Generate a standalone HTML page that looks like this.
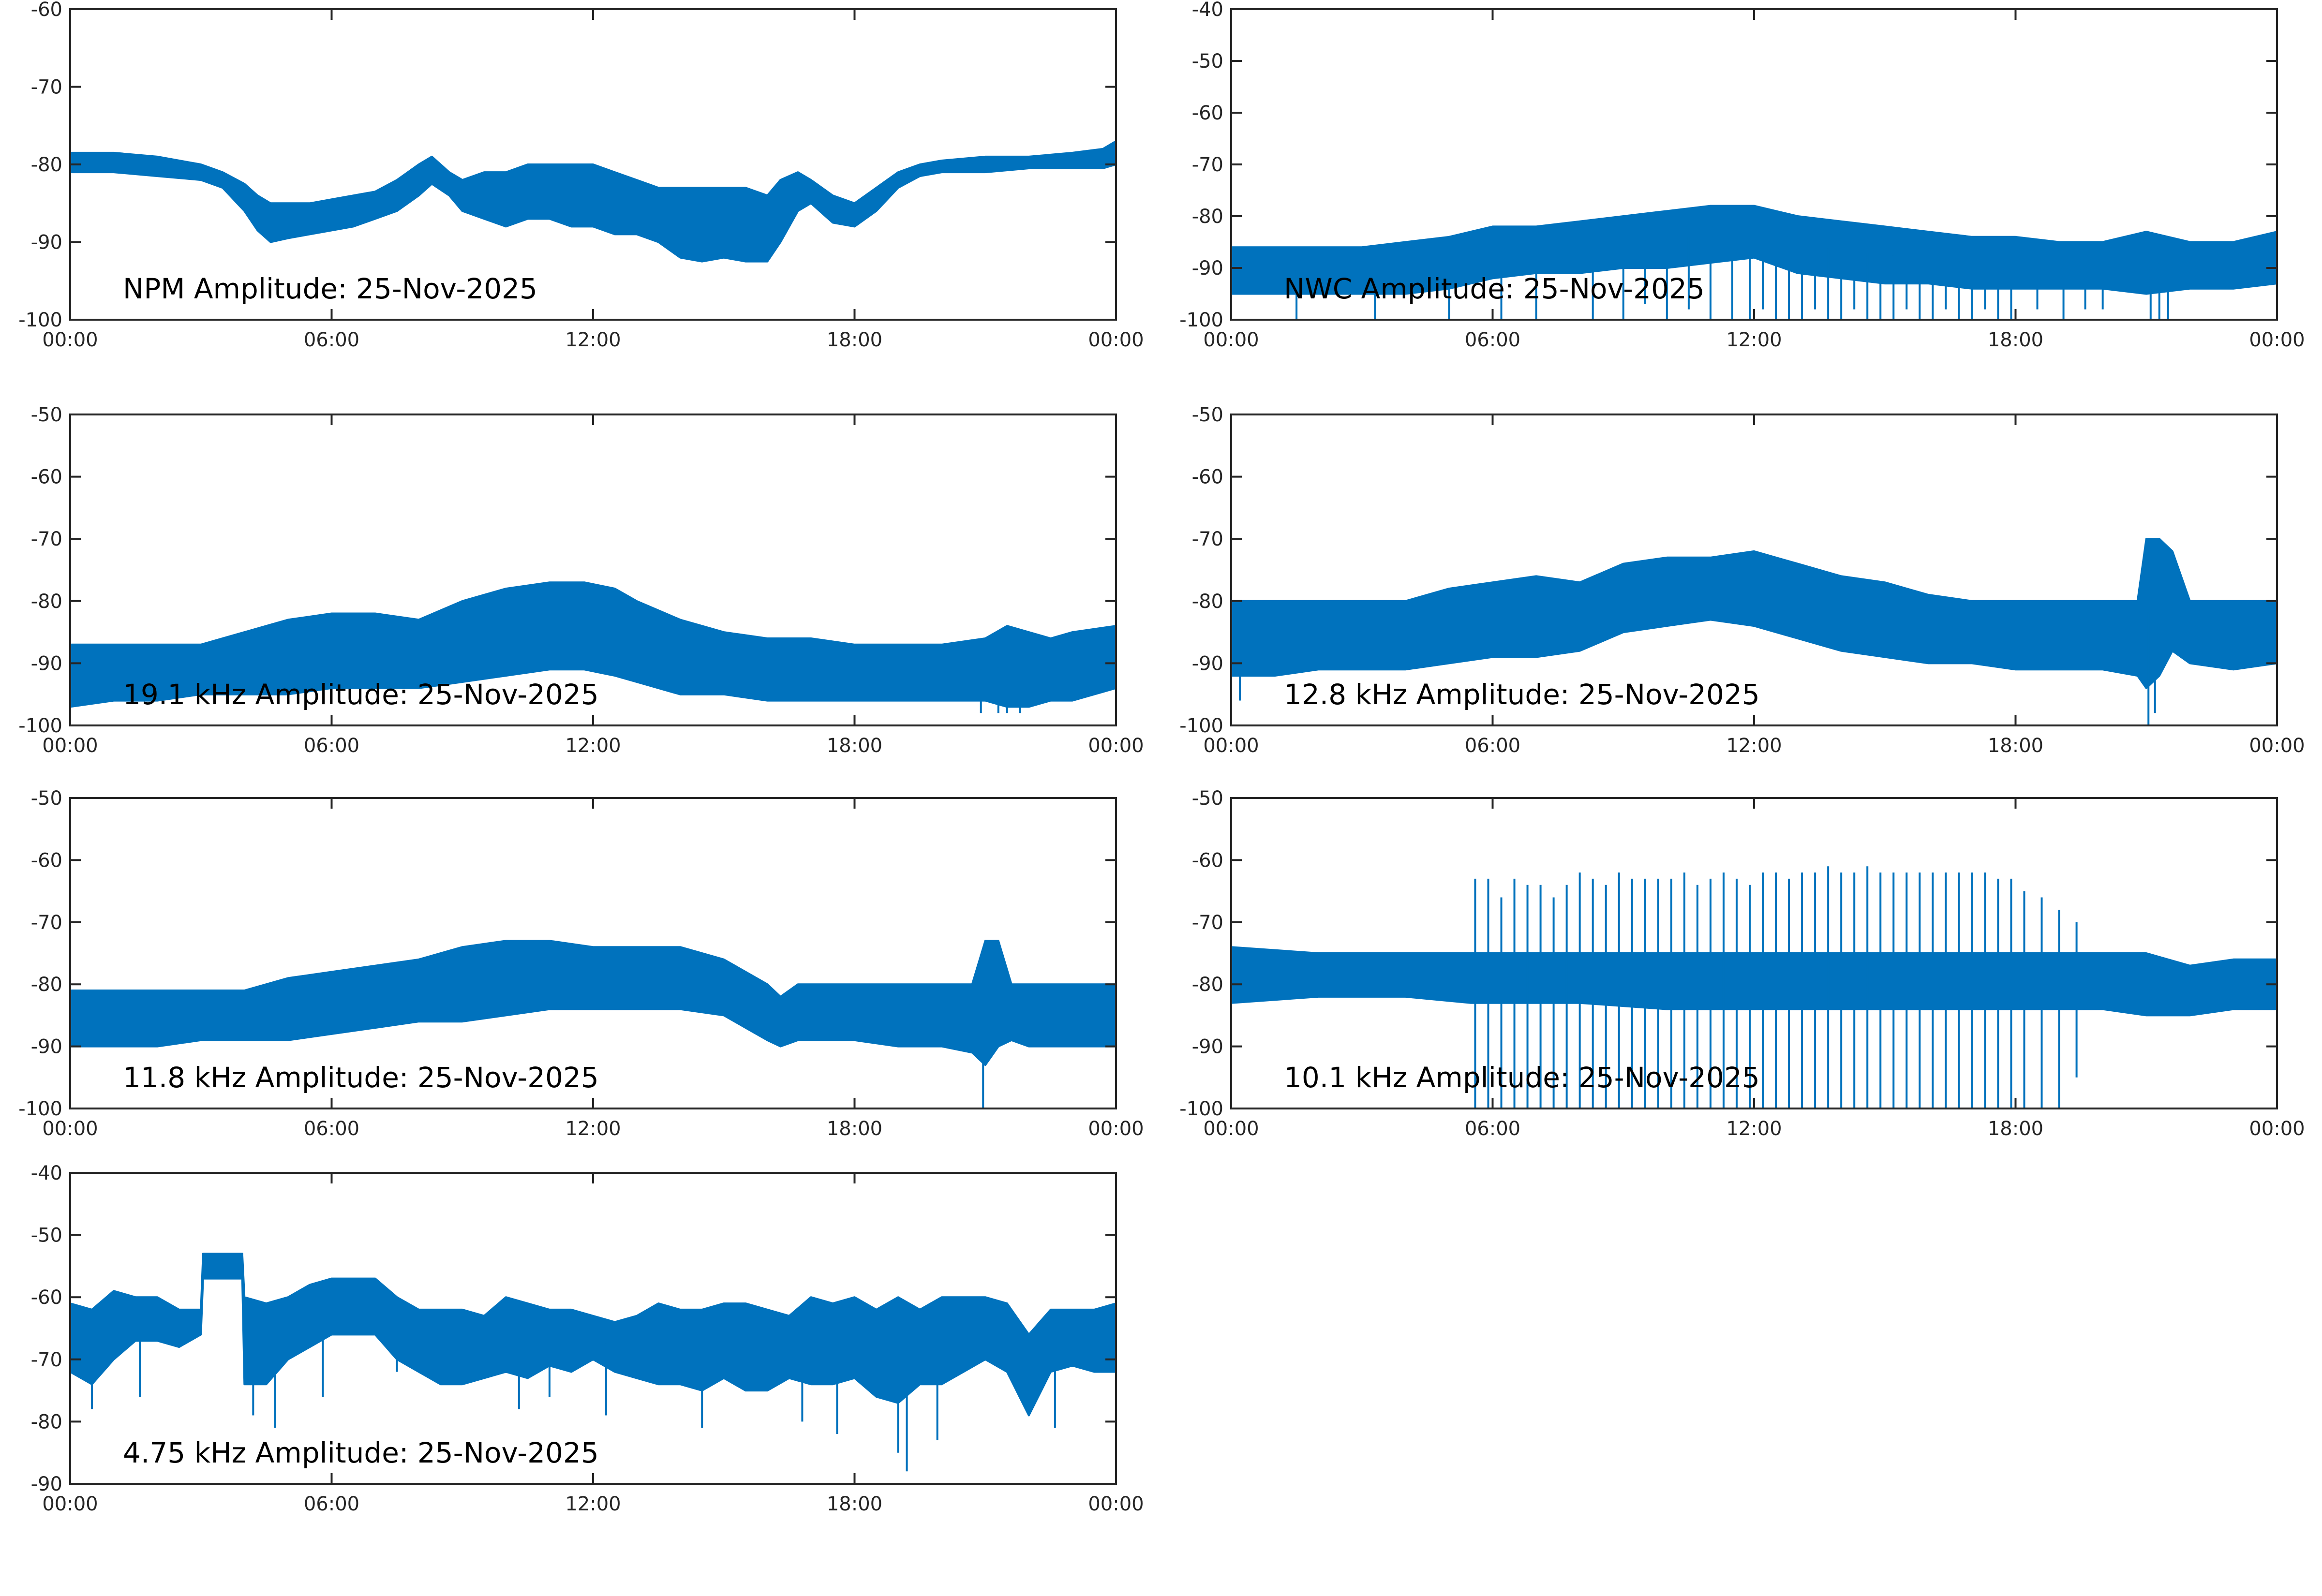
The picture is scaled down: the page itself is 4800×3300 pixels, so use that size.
<!DOCTYPE html>
<html><head><meta charset="utf-8"><style>
html,body{margin:0;padding:0;background:#fff;}
svg{display:block;}
text{font-family:"DejaVu Sans","Liberation Sans",sans-serif;}
</style></head>
<body>
<svg id="fig" width="4800" height="3300" viewBox="0 0 4800 3300" xmlns="http://www.w3.org/2000/svg"></svg>
<script>
// ---------- data (hours, dB) ----------
const hourTicks = [0, 6, 12, 18, 24];
const hourTickLabels = ["00:00", "06:00", "12:00", "18:00", "00:00"];

const npmT  = [0,1,2,3,3.5,4,4.3,4.6,5,5.5,6,6.5,7,7.5,8,8.3,8.7,9,9.5,10,10.5,11,11.5,12,12.5,13,13.5,14,14.5,15,15.5,16,16.3,16.7,17,17.5,18,18.5,19,19.5,20,21,22,23,23.7,24];
const npmHi = [-78.5,-78.5,-79,-80,-81,-82.5,-84,-85,-85,-85,-84.5,-84,-83.5,-82,-80,-79,-81,-82,-81,-81,-80,-80,-80,-80,-81,-82,-83,-83,-83,-83,-83,-84,-82,-81,-82,-84,-85,-83,-81,-80,-79.5,-79,-79,-78.5,-78,-77];
const npmLo = [-81,-81,-81.5,-82,-83,-86,-88.5,-90,-89.5,-89,-88.5,-88,-87,-86,-84,-82.5,-84,-86,-87,-88,-87,-87,-88,-88,-89,-89,-90,-92,-92.5,-92,-92.5,-92.5,-90,-86,-85,-87.5,-88,-86,-83,-81.5,-81,-81,-80.5,-80.5,-80.5,-80];

const nwcT  = [0,1,2,3,4,5,6,7,8,9,10,11,12,13,14,15,16,17,18,19,20,21,22,23,24];
const nwcHi = [-86,-86,-86,-86,-85,-84,-82,-82,-81,-80,-79,-78,-78,-80,-81,-82,-83,-84,-84,-85,-85,-83,-85,-85,-83];
const nwcLo = [-95,-95,-95,-95,-95,-94,-92,-91,-91,-90,-90,-89,-88,-91,-92,-93,-93,-94,-94,-94,-94,-95,-94,-94,-93];
const nwcSpikeT = [1.5,3.3,5.0,6.2,7.0,8.3,9.0,9.5,10.0,10.5,11.0,11.5,11.9,12.2,12.5,12.8,13.1,13.4,13.7,14.0,14.3,14.6,14.9,15.2,15.5,15.8,16.1,16.4,16.7,17.0,17.3,17.6,17.9,18.5,19.1,19.6,20.0,21.1,21.3,21.5];
const nwcSpikeV = [-100,-100,-100,-100,-100,-100,-100,-97,-100,-98,-100,-100,-100,-98,-100,-100,-100,-98,-100,-100,-98,-100,-100,-100,-98,-100,-100,-98,-100,-100,-98,-100,-100,-98,-100,-98,-98,-100,-100,-100];

const k191T  = [0,1,2,3,4,5,6,7,8,9,10,11,11.8,12.5,13,14,15,16,17,18,19,20,21,21.5,22,22.5,23,24];
const k191Hi = [-87,-87,-87,-87,-85,-83,-82,-82,-83,-80,-78,-77,-77,-78,-80,-83,-85,-86,-86,-87,-87,-87,-86,-84,-85,-86,-85,-84];
const k191Lo = [-97,-96,-96,-95,-95,-95,-94,-94,-94,-93,-92,-91,-91,-92,-93,-95,-95,-96,-96,-96,-96,-96,-96,-97,-97,-96,-96,-94];
const k191SpikeT = [20.9,21.3,21.5,21.8];
const k191SpikeV = [-98,-98,-98,-98];

const k128T  = [0,1,2,3,4,5,6,7,8,9,10,11,12,13,14,15,16,17,18,19,20,20.8,21.0,21.3,21.6,22,23,24];
const k128Hi = [-80,-80,-80,-80,-80,-78,-77,-76,-77,-74,-73,-73,-72,-74,-76,-77,-79,-80,-80,-80,-80,-80,-70,-70,-72,-80,-80,-80];
const k128Lo = [-92,-92,-91,-91,-91,-90,-89,-89,-88,-85,-84,-83,-84,-86,-88,-89,-90,-90,-91,-91,-91,-92,-94,-92,-88,-90,-91,-90];
const k128SpikeT = [0.2,21.05,21.2];
const k128SpikeV = [-96,-100,-98];

const k118T  = [0,1,2,3,4,5,6,7,8,9,10,11,12,12.5,13,14,15,15.5,16,16.3,16.7,17,18,19,20,20.7,21,21.3,21.6,22,23,24];
const k118Hi = [-81,-81,-81,-81,-81,-79,-78,-77,-76,-74,-73,-73,-74,-74,-74,-74,-76,-78,-80,-82,-80,-80,-80,-80,-80,-80,-73,-73,-80,-80,-80,-80];
const k118Lo = [-90,-90,-90,-89,-89,-89,-88,-87,-86,-86,-85,-84,-84,-84,-84,-84,-85,-87,-89,-90,-89,-89,-89,-90,-90,-91,-93,-90,-89,-90,-90,-90];
const k118SpikeT = [20.95];
const k118SpikeV = [-100];

const k101T  = [0,2,4,5.5,8,10,12,14,16,18,19,20,21,22,23,24];
const k101Hi = [-74,-75,-75,-75,-75,-75,-75,-75,-75,-75,-75,-75,-75,-77,-76,-76];
const k101Lo = [-83,-82,-82,-83,-83,-84,-84,-84,-84,-84,-84,-84,-85,-85,-84,-84];
const k101SpikeT = [5.6,5.9,6.2,6.5,6.8,7.1,7.4,7.7,8.0,8.3,8.6,8.9,9.2,9.5,9.8,10.1,10.4,10.7,11.0,11.3,11.6,11.9,12.2,12.5,12.8,13.1,13.4,13.7,14.0,14.3,14.6,14.9,15.2,15.5,15.8,16.1,16.4,16.7,17.0,17.3,17.6,17.9,18.2,18.6,19.0,19.4];
const k101SpikeTop = [-63,-63,-66,-63,-64,-64,-66,-64,-62,-63,-64,-62,-63,-63,-63,-63,-62,-64,-63,-62,-63,-64,-62,-62,-63,-62,-62,-61,-62,-62,-61,-62,-62,-62,-62,-62,-62,-62,-62,-62,-63,-63,-65,-66,-68,-70];
const k101SpikeBot = [-100,-100,-100,-100,-100,-100,-100,-100,-100,-100,-100,-100,-100,-100,-100,-100,-100,-100,-100,-100,-100,-100,-100,-100,-100,-100,-100,-100,-100,-100,-100,-100,-100,-100,-100,-100,-100,-100,-100,-100,-100,-100,-100,-100,-100,-95];

const k475T  = [0,0.5,1,1.5,2,2.5,3.0,3.05,3.5,3.95,4.0,4.5,5,5.5,6,6.5,7,7.5,8,8.5,9,9.5,10,10.5,11,11.5,12,12.5,13,13.5,14,14.5,15,15.5,16,16.5,17,17.5,18,18.5,19,19.5,20,20.5,21,21.5,22,22.5,23,23.5,24];
const k475Hi = [-61,-62,-59,-60,-60,-62,-62,-53,-53,-53,-60,-61,-60,-58,-57,-57,-57,-60,-62,-62,-62,-63,-60,-61,-62,-62,-63,-64,-63,-61,-62,-62,-61,-61,-62,-63,-60,-61,-60,-62,-60,-62,-60,-60,-60,-61,-66,-62,-62,-62,-61];
const k475Lo = [-72,-74,-70,-67,-67,-68,-66,-57,-57,-57,-74,-74,-70,-68,-66,-66,-66,-70,-72,-74,-74,-73,-72,-73,-71,-72,-70,-72,-73,-74,-74,-75,-73,-75,-75,-73,-74,-74,-73,-76,-77,-74,-74,-72,-70,-72,-79,-72,-71,-72,-72];
const k475SpikeT = [0.5,1.6,4.2,4.7,5.8,7.5,10.3,11.0,12.3,14.5,16.8,17.6,19.0,19.2,19.9,22.6];
const k475SpikeV = [-78,-76,-79,-81,-76,-72,-78,-76,-79,-81,-80,-82,-85,-88,-83,-81];

// ---------- layout ----------
const svg = document.getElementById('fig');
const NS = 'http://www.w3.org/2000/svg';
const BLUE = '#0072BD', AX = '#262626';
const colX = [145, 2545];
const W = 2162;
const rowY = [[19,661],[857,1500],[1650,2292],[2425,3068]];

const panels = [
  {name:'npm', title:'NPM Amplitude: 25-Nov-2025', col:0,row:0, ymin:-100,ymax:-60, t:npmT,hi:npmHi,lo:npmLo},
  {name:'nwc', title:'NWC Amplitude: 25-Nov-2025', col:1,row:0, ymin:-100,ymax:-40, t:nwcT,hi:nwcHi,lo:nwcLo, st:nwcSpikeT, sv:nwcSpikeV},
  {name:'19-1-khz', title:'19.1 kHz Amplitude: 25-Nov-2025', col:0,row:1, ymin:-100,ymax:-50, t:k191T,hi:k191Hi,lo:k191Lo, st:k191SpikeT, sv:k191SpikeV},
  {name:'12-8-khz', title:'12.8 kHz Amplitude: 25-Nov-2025', col:1,row:1, ymin:-100,ymax:-50, t:k128T,hi:k128Hi,lo:k128Lo, st:k128SpikeT, sv:k128SpikeV},
  {name:'11-8-khz', title:'11.8 kHz Amplitude: 25-Nov-2025', col:0,row:2, ymin:-100,ymax:-50, t:k118T,hi:k118Hi,lo:k118Lo, st:k118SpikeT, sv:k118SpikeV},
  {name:'10-1-khz', title:'10.1 kHz Amplitude: 25-Nov-2025', col:1,row:2, ymin:-100,ymax:-50, t:k101T,hi:k101Hi,lo:k101Lo, st:k101SpikeT, stop:k101SpikeTop, sbot:k101SpikeBot},
  {name:'4-75-khz', title:'4.75 kHz Amplitude: 25-Nov-2025', col:0,row:3, ymin:-90,ymax:-40, t:k475T,hi:k475Hi,lo:k475Lo, st:k475SpikeT, sv:k475SpikeV}
];

function mk(tag, attrs, parent){
  const e = document.createElementNS(NS, tag);
  for (const k in attrs) e.setAttribute(k, attrs[k]);
  parent.appendChild(e);
  return e;
}

panels.forEach(p => {
  const L = colX[p.col], R = L + W, T = rowY[p.row][0], B = rowY[p.row][1];
  const xs = h => L + h / 24 * W;
  const ys = v => B - (v - p.ymin) / (p.ymax - p.ymin) * (B - T);
  const clamp = v => Math.max(p.ymin, Math.min(p.ymax, v));
  const g = mk('g', {}, svg);
  
  

  let d = '';
  p.t.forEach((h, i) => { d += (i ? 'L' : 'M') + xs(h).toFixed(1) + ',' + ys(clamp(p.hi[i])).toFixed(1); });
  for (let i = p.t.length - 1; i >= 0; i--) d += 'L' + xs(p.t[i]).toFixed(1) + ',' + ys(clamp(p.lo[i])).toFixed(1);
  d += 'Z';
  const band = mk('path', {d: d, fill: BLUE, stroke: BLUE, 'stroke-width': 4, 'stroke-linejoin':'round'}, g);
  
  

  if (p.st) {
    p.st.forEach((h, i) => {
      let k = 0; while (k < p.t.length - 2 && p.t[k+1] < h) k++;
      const f = (h - p.t[k]) / ((p.t[k+1] - p.t[k]) || 1);
      const mid = (p.hi[k] + (p.hi[k+1]-p.hi[k])*f + p.lo[k] + (p.lo[k+1]-p.lo[k])*f) / 2;
      const top = p.stop ? p.stop[i] : mid;
      const bot = p.sbot ? p.sbot[i] : p.sv[i];
      const ln = mk('line', {x1: xs(h), x2: xs(h), y1: ys(clamp(top)), y2: ys(clamp(bot)), stroke: BLUE, 'stroke-width': 4}, g);
      
      
    });
  }

  const box = mk('rect', {x: L, y: T, width: W, height: B - T, fill: 'none', stroke: AX, 'stroke-width': 4}, g);
  
  

  hourTicks.forEach((h, i) => {
    const x = xs(h);
    mk('line', {x1: x, x2: x, y1: B, y2: B - 22, stroke: AX, 'stroke-width': 4}, g);
    mk('line', {x1: x, x2: x, y1: T, y2: T + 22, stroke: AX, 'stroke-width': 4}, g);
    const tx = mk('text', {x: x, y: B + 55, 'font-size': 40, fill: AX, 'text-anchor': 'middle'}, g);
    tx.textContent = hourTickLabels[i];
    
    
  });
  for (let v = p.ymin; v <= p.ymax; v += 10) {
    const y = ys(v);
    mk('line', {x1: L, x2: L + 22, y1: y, y2: y, stroke: AX, 'stroke-width': 4}, g);
    mk('line', {x1: R, x2: R - 22, y1: y, y2: y, stroke: AX, 'stroke-width': 4}, g);
    const ty = mk('text', {x: L - 16, y: y + 14, 'font-size': 40, fill: AX, 'text-anchor': 'end'}, g);
    ty.textContent = String(v);
    
    
  }
  const tt = mk('text', {x: L + 109, y: B - 44, 'font-size': 58, fill: '#000'}, g);
  tt.textContent = p.title;
  
  
});
</script>
</body></html>
